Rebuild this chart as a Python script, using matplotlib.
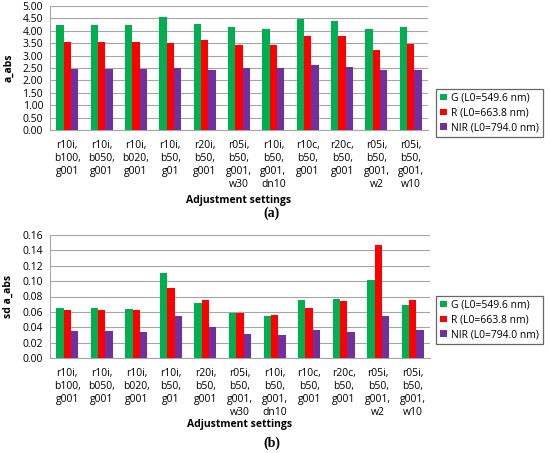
import matplotlib
matplotlib.use("Agg")
import matplotlib.pyplot as plt
import numpy as np

categories = ["r10i,\nb100,\ng001", "r10i,\nb050,\ng001", "r10i,\nb020,\ng001", "r10i,\nb50,\ng01",
              "r20i,\nb50,\ng001", "r05i,\nb50,\ng001,\nw30", "r10i,\nb50,\ng001,\ndn10",
              "r10c,\nb50,\ng001", "r20c,\nb50,\ng001", "r05i,\nb50,\ng001,\nw2", "r05i,\nb50,\ng001,\nw10"]
series_names = ["G (L0=549.6 nm)", "R (L0=663.8 nm)", "NIR (L0=794.0 nm)"]

a_G = [4.23, 4.23, 4.23, 4.57, 4.26, 4.17, 4.07, 4.49, 4.40, 4.09, 4.15]
a_R = [3.55, 3.55, 3.55, 3.51, 3.63, 3.44, 3.43, 3.78, 3.79, 3.24, 3.47]
a_NIR = [2.46, 2.46, 2.46, 2.51, 2.43, 2.49, 2.49, 2.61, 2.54, 2.42, 2.43]

sd_G = [0.065, 0.065, 0.064, 0.110, 0.071, 0.058, 0.055, 0.075, 0.077, 0.101, 0.069]
sd_R = [0.062, 0.062, 0.062, 0.091, 0.076, 0.058, 0.056, 0.065, 0.074, 0.147, 0.075]
sd_NIR = [0.035, 0.035, 0.034, 0.055, 0.040, 0.031, 0.030, 0.036, 0.034, 0.055, 0.037]

colors = ["#00B050", "#FF0000", "#7030A0"]
font = "Open Sans"

fig = plt.figure(figsize=(5.5, 4.53), dpi=100)
W, H = 550, 453


def make_axes(x0, x1, ytop, ybot):
    return fig.add_axes([x0 / W, 1 - ybot / H, (x1 - x0) / W, (ybot - ytop) / H])


def draw(ax, data, yticks, fmt, ylabel, tag, tag_y, xlabel_y, legend_box):
    x = np.arange(len(categories))
    w = 0.213
    for i, (vals, c, name) in enumerate(zip(data, colors, series_names)):
        ax.bar(x + (i - 1) * w, vals, width=w, color=c, label=name, zorder=3)
    ax.set_xlim(-0.5, len(categories) - 0.5)
    ax.set_ylim(yticks[0], yticks[-1])
    ax.set_yticks(yticks)
    ax.set_yticklabels([fmt.format(t) for t in yticks], fontsize=7.5, family=font)
    ax.set_xticks(x)
    ax.set_xticklabels(categories, fontsize=7.5, family=font, linespacing=1.28, va="top")
    ax.tick_params(axis="x", length=0, pad=7)
    ax.tick_params(axis="y", length=0, pad=5)
    ax.grid(axis="y", color="#A6A6A6", linewidth=0.8, zorder=0)
    for s in ["top", "right"]:
        ax.spines[s].set_visible(False)
    ax.spines["left"].set_color("#A6A6A6")
    ax.spines["bottom"].set_color("#A6A6A6")
    ax.set_ylabel(ylabel, fontsize=7.5, family=font, fontweight="bold", labelpad=6)
    fig.text(ax.get_position().x0 + ax.get_position().width / 2, 1 - xlabel_y / H,
             "Adjustment settings", ha="center", va="center", fontsize=7.5,
             family=font, fontweight="bold")
    fig.text(272 / W, 1 - tag_y / H, tag, ha="center", va="center", fontsize=10,
             family="Liberation Serif", fontweight="bold")
    x0, y0, x1, y1 = legend_box
    leg = fig.legend(*ax.get_legend_handles_labels(), loc="center",
                     bbox_to_anchor=(x0 / W, 1 - y1 / H, (x1 - x0) / W, (y1 - y0) / H),
                     prop={"family": font, "size": 7.5}, frameon=True, fancybox=False,
                     handlelength=0.6, handleheight=0.6, handletextpad=0.4,
                     labelspacing=0.35, borderpad=0.4)
    leg.get_frame().set_edgecolor("#404040")
    leg.get_frame().set_linewidth(0.9)


ax1 = make_axes(50, 428, 6, 130)
draw(ax1, [a_G, a_R, a_NIR], np.round(np.arange(0, 5.01, 0.5), 2), "{:.2f}", "a_abs",
     "(a)", 213, 200, (432, 90, 547, 136))

ax2 = make_axes(50, 430, 235, 358)
draw(ax2, [sd_G, sd_R, sd_NIR], np.round(np.arange(0, 0.161, 0.02), 2), "{:.2f}", "sd a_abs",
     "(b)", 443, 425, (432, 296, 547, 344))

fig.savefig("out.png", dpi=100)
